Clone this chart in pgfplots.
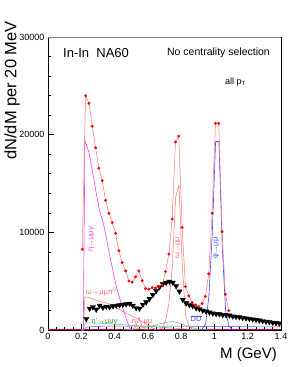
\documentclass[border=0pt]{standalone}
\usepackage{pgfplots}
\pgfplotsset{compat=1.18}
\usepackage{fontspec}
\setmainfont{Liberation Sans}
\newcommand\obar[1]{\setbox0\hbox{#1}\rlap{\raisebox{\dimexpr\ht0+0.5pt}{\rule{\wd0}{0.4pt}}}#1}
\definecolor{dataline}{HTML}{FF7070}
\definecolor{cockred}{HTML}{F07070}
\definecolor{mag}{HTML}{F040F0}
\definecolor{grn}{HTML}{70B860}
\definecolor{grnlab}{HTML}{40A040}
\definecolor{blu}{HTML}{4848FF}
\begin{document}
\begin{tikzpicture}
\useasboundingbox (-48pt,-37pt) rectangle (243pt,330pt);
\begin{axis}[
 at={(0pt,0pt)}, anchor=south west,
 scale only axis, width=233pt, height=293pt,
 xmin=0, xmax=1.4, ymin=0, ymax=30000,
 xtick={0,0.2,0.4,0.6,0.8,1,1.2,1.4},
 xticklabels={0,0.2,0.4,0.6,0.8,1,1.2,1.4},
 ytick={0,10000,20000,30000},
 yticklabels={0,10000,20000,30000},
 minor x tick num=3, minor y tick num=4,
 xtick pos=left, ytick pos=left,
 tick align=inside,
 major tick length=6pt, minor tick length=3.5pt,
 tick style={black, line width=0.5pt},
 axis line style={black, line width=0.6pt},
 tick label style={font=\fontsize{9}{9}\selectfont},
 /pgf/number format/assume math mode=true,
 scaled y ticks=false,
 every mark/.append style={solid},
]
% maroon baseline
\addplot[color=purple!80!red, line width=0.8pt] coordinates {(0,40) (1.4,40)};
% DD
\addplot[color=blu, line width=0.5pt] coordinates {(0.2,0) (0.215,0) (0.23,300) (0.3,380) (0.4,400) (0.6,400) (0.8,390) (1.0,370) (1.2,340) (1.4,310)};
% eta' Dalitz (green)
\addplot[color=grn, line width=0.5pt] coordinates {(0.2,0) (0.21,0) (0.225,750) (0.3,700) (0.4,600) (0.5,480) (0.6,360) (0.7,250) (0.8,150) (0.88,50) (0.92,0)};
% rho (green)
\addplot[color=grn, line width=0.5pt] coordinates {(0.45,0) (0.5,60) (0.55,160) (0.6,320) (0.65,520) (0.7,760) (0.75,870) (0.8,640) (0.85,300) (0.9,100) (0.95,30) (1.0,0)};
% omega Dalitz
\addplot[color=cockred, line width=0.5pt] coordinates {(0.2,0) (0.212,0) (0.222,3400) (0.25,3300) (0.29,3050) (0.33,2850) (0.37,2650) (0.41,2300) (0.45,1900) (0.49,1550) (0.53,1200) (0.57,800) (0.61,400) (0.64,100) (0.65,0)};
% eta -> mumu
\addplot[color=cockred, line width=0.5pt] coordinates {(0.49,0) (0.507,50) (0.527,300) (0.547,1300) (0.567,300) (0.587,50) (0.61,0)};
% eta Dalitz (magenta)
\addplot[color=mag, line width=0.6pt] coordinates {(0.2,0) (0.212,0) (0.222,19400) (0.246,18200) (0.27,16000) (0.29,14000) (0.31,12200) (0.333,10900) (0.35,9500) (0.372,7500) (0.39,6100) (0.413,4270) (0.433,3100) (0.453,2050) (0.473,1000) (0.493,170) (0.505,0)};
% omega -> mumu
\addplot[color=cockred, line width=0.5pt] coordinates {(0.66,0) (0.687,200) (0.707,1000) (0.727,2800) (0.747,6500) (0.767,13600) (0.787,14850) (0.807,6500) (0.827,1500) (0.847,400) (0.867,100) (0.9,0)};
% phi -> mumu
\addplot[color=blu, line width=0.6pt] coordinates {(0.9,0) (0.927,100) (0.947,600) (0.967,3500) (0.987,9800) (1.007,19300) (1.027,19300) (1.047,8500) (1.067,2000) (1.087,400) (1.107,50) (1.13,0)};
% excess (black triangles)
\addplot[only marks, mark=triangle*, mark size=3pt, color=black, mark options={rotate=180, fill=black}] coordinates {
(0.23,1150) (0.25,2200) (0.27,2350) (0.29,2100) (0.31,2500) (0.33,2300) (0.35,2400) (0.37,2350) (0.39,2450) (0.41,2500) (0.43,2550) (0.45,2600) (0.47,2650) (0.49,2700) (0.51,2500) (0.53,2250) (0.55,2200) (0.57,2600) (0.59,2850) (0.61,3200) (0.63,3600) (0.65,4000) (0.67,4400) (0.69,4700) (0.71,4850) (0.73,4950) (0.75,4850) (0.77,4500) (0.79,3950) (0.81,3100) (0.83,2750) (0.85,2550) (0.87,2450) (0.89,2250) (0.91,2150) (0.93,2000) (0.95,1900) (0.97,1800) (0.99,1700) (1.01,1650) (1.03,1620) (1.05,1550) (1.07,1520) (1.09,1500) (1.11,1400) (1.13,1350) (1.15,1320) (1.17,1250) (1.19,1200) (1.21,1150) (1.23,1100) (1.25,1050) (1.27,980) (1.29,920) (1.31,860) (1.33,820) (1.35,760) (1.37,720) (1.39,680)};
% data (red)
\addplot[color=dataline, line width=0.5pt, mark=*, mark size=1.2pt, mark options={fill=red, draw=red}] coordinates {
(0.206,8260) (0.226,23990) (0.246,23210) (0.266,20860) (0.286,18660) (0.306,16560) (0.326,15290) (0.346,13280) (0.366,11950) (0.386,10990) (0.406,9900) (0.426,8120) (0.446,6890) (0.466,6050) (0.486,5020) (0.506,4900) (0.526,5440) (0.546,6050) (0.566,5050) (0.586,4250) (0.606,4170) (0.626,4330) (0.646,4300) (0.666,4430) (0.686,4610) (0.706,5970) (0.726,7780) (0.746,11360) (0.766,19250) (0.786,19850) (0.806,10500) (0.826,4440) (0.846,3500) (0.866,2800) (0.886,2560) (0.906,2390) (0.926,2730) (0.946,3450) (0.966,5760) (0.986,11950) (1.006,21160) (1.026,21160) (1.046,10070) (1.066,3650) (1.086,1980)};
% labels
\node[rotate=90, text=mag, font=\fontsize{7.5}{7.5}\selectfont] at (axis cs:0.262,9300) {η→μμγ};
\node[text=cockred, font=\fontsize{7.5}{7.5}\selectfont] at (axis cs:0.32,3900) {ω→μμπ\textsuperscript{0}};
\node[text=grnlab, font=\fontsize{7.5}{7.5}\selectfont] at (axis cs:0.34,850) {η'→μμγ};
\node[text=cockred, font=\fontsize{7.5}{7.5}\selectfont] at (axis cs:0.565,800) {η→μμ};
\node[rotate=90, text=cockred, font=\fontsize{7.5}{7.5}\selectfont] at (axis cs:0.782,8400) {ω→μμ};
\node[rotate=90, text=blu, font=\fontsize{7.5}{7.5}\selectfont] at (axis cs:1.012,8400) {φ→μμ};
\node[text=blu, font=\fontsize{7.5}{7.5}\selectfont] at (axis cs:0.89,1150) {\obar{D}\obar{D}};
\end{axis}
\draw[gray, line width=0.8pt] (0pt,293pt) -- (233pt,293pt);
\draw[black, line width=1pt] (233pt,0pt) -- (233pt,293pt);
\node[anchor=west, font=\fontsize{13}{13}\selectfont, inner sep=0pt] at (15pt,277pt) {In-In\ \ NA60};
\node[anchor=east, font=\fontsize{10.5}{10.5}\selectfont, inner sep=0pt] at (222pt,277pt) {No centrality selection};
\node[anchor=west, font=\fontsize{9}{9}\selectfont, inner sep=0pt] at (177pt,248pt) {all p\textsubscript{T}};
\node[rotate=90, anchor=east, font=\fontsize{16.5}{16.5}\selectfont, inner sep=0pt] at (-36pt,309pt) {dN/dM per 20 MeV};
\node[anchor=east, font=\fontsize{15}{15}\selectfont, inner sep=0pt] at (229pt,-25pt) {M (GeV)};
\end{tikzpicture}
\end{document}
